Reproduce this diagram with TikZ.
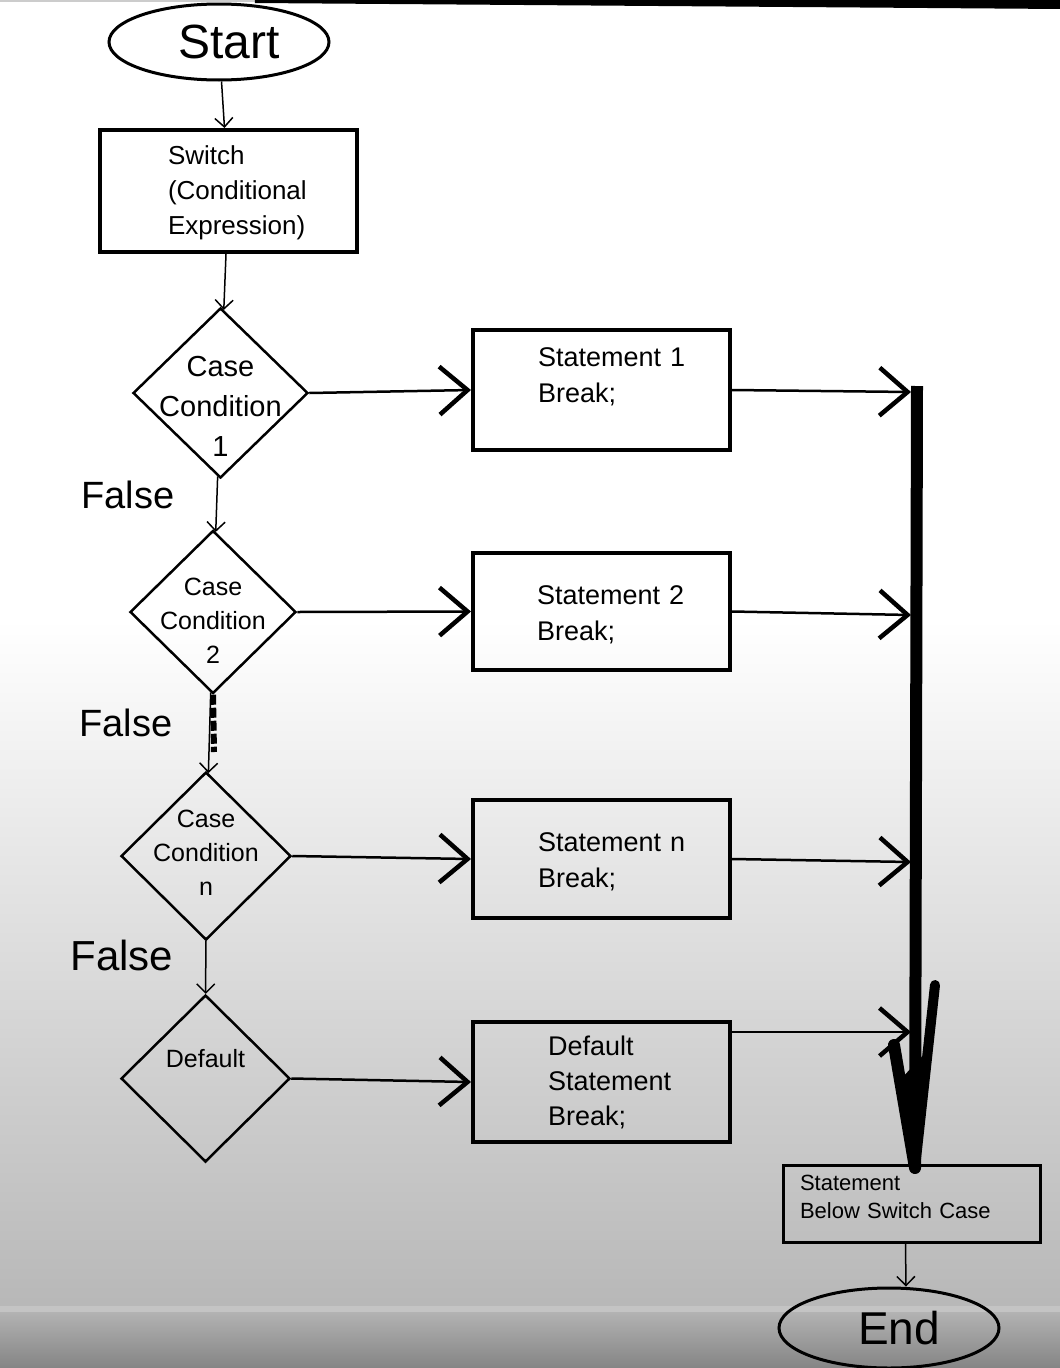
\documentclass[tikz,border=0pt]{standalone}
\usepackage{fontspec}
\setmainfont{Liberation Sans}
\usetikzlibrary{shapes.geometric,arrows.meta}
\hfuzz=100pt
\definecolor{bgmid}{gray}{0.72}
\definecolor{bgband}{gray}{0.77}
\definecolor{bglow}{gray}{0.70}
\definecolor{bgbot}{gray}{0.52}
\tikzset{
    box/.style={draw, line width=4pt, rectangle, inner sep=0pt, align=left,
        minimum width=257pt, font=\fontsize{27}{36}\selectfont},
    cond/.style={draw, line width=2.5pt, diamond, inner sep=-60pt, align=center,
        text width=140pt, font=\fontsize{25}{34}\selectfont},
    term/.style={draw, line width=3pt, ellipse, inner sep=0pt, minimum width=220pt, align=right},
    flow/.style={line width=1.5pt, -{Straight Barb[length=9pt,width=18pt,line width=1.5pt]}},
    jump/.style={line width=2.5pt, -{Straight Barb[length=28pt,width=48pt,line width=4.5pt]}},
    lbl/.style={font=\fontsize{38}{38}\selectfont}
}
\begin{document}
\begin{tikzpicture}[x=1pt,y=-1pt]
    \useasboundingbox (0,0) rectangle (1060,1368);
    \fill[white] (0,0) rectangle (1060,1368);
    \shade[top color=white, bottom color=bgmid] (0,620) rectangle (1060,1306);
    \fill[bgband] (0,1306) rectangle (1060,1312);
    \shade[top color=bglow, bottom color=bgbot] (0,1312) rectangle (1060,1368);
    \draw[gray!40, line width=3pt] (0,0) -- (255,0);
    \draw[line width=10pt] (255,-2) -- (1062,4);

    \node[term, minimum height=76pt, text width=122pt, font=\fontsize{48}{48}\selectfont] (start) at (219,42) {Start};
    \node[box, minimum height=122pt, text width=121pt, text height=34.5pt, text depth=87.5pt,
        font=\fontsize{26}{35}\selectfont] (switch) at (228.5,191) {Switch\\(Conditional\\Expression)};

    \node[cond, minimum width=175pt, minimum height=170pt, text height=68pt, text depth=102pt,
        font=\fontsize{29}{40}\selectfont] (c1) at (220.5,393) {Case\\Condition\\1};
    \node[cond, minimum width=166pt, minimum height=163pt, text height=65pt, text depth=98pt] (c2) at (213,612) {Case\\Condition\\2};
    \node[cond, minimum width=170pt, minimum height=168pt, text height=55pt, text depth=113pt] (cn) at (206,856) {Case\\Condition\\n};
    \node[cond, minimum width=169pt, minimum height=167pt, text height=72pt, text depth=95pt] (cd) at (205.5,1078.5) {Default};

    \node[lbl] (f1) at (128,495) {False};
    \node[lbl] (f2) at (126,723) {False};
    \node[lbl, font=\fontsize{42}{42}\selectfont] (f3) at (122,955) {False};

    \node[box, minimum height=120pt, text width=127pt, text height=36pt, text depth=84pt] (s1) at (601.5,390) {Statement~1\\Break;};
    \node[box, minimum height=117pt, text width=129pt, text height=51pt, text depth=66pt] (s2) at (601.5,611.5) {Statement~2\\Break;};
    \node[box, minimum height=118pt, text width=127pt, text height=51pt, text depth=67pt] (sn) at (601.5,859) {Statement~n\\Break;};
    \node[box, minimum height=120pt, text width=107pt, text height=33pt, text depth=87pt,
        font=\fontsize{27}{35}\selectfont] (sd) at (601.5,1082) {Default\\Statement\\Break;};

    \node[box, line width=3pt, minimum height=77pt, text width=223pt, text height=25pt, text depth=52pt,
        font=\fontsize{22}{28}\selectfont] (below) at (911.5,1203.5) {Statement\\Below~Switch~Case};
    \node[term, minimum height=80pt, text width=102pt, font=\fontsize{46}{46}\selectfont] (end) at (889,1328) {End};

    \coordinate (bartop) at (917,386);
    \coordinate (barbot) at (915,1168);
    \coordinate (j1) at (911,392);
    \coordinate (j2) at (911,615);
    \coordinate (j3) at (911,862);
    \coordinate (j4) at (911,1032);
    \coordinate (dd) at (214,752);

    \draw[flow] (start) -- (switch);
    \draw[flow] (switch) -- (c1);
    \draw[flow] (c1) -- (c2);
    \draw[flow] (c2) -- (cn);
    \draw[line width=6pt, dash pattern=on 10pt off 3pt] (c2.south) -- (dd);
    \draw[flow] (cn) -- (cd);

    \draw[jump] (c1.east) -- (s1.west);
    \draw[jump] (c2.east) -- (s2.west);
    \draw[jump] (cn.east) -- (sn.west);
    \draw[jump] (cd.east) -- (sd.west);

    \draw[jump] (s1.east) -- (j1);
    \draw[jump] (s2.east) -- (j2);
    \draw[jump] (sn.east) -- (j3);
    \draw[jump] (sd.east |- j4) -- (j4);

    \draw[line width=12pt] (bartop) -- (barbot);
    \draw[line width=10pt, line cap=round] (935,985) -- (barbot);
    \draw[line width=12pt, line cap=round] (894,1045) -- (barbot);
    \fill (900,1080) -- (928,1050) -- (barbot) -- cycle;

    \draw[flow] ([xshift=-6pt]below.south) -- ([xshift=17pt]end.north);
\end{tikzpicture}
\end{document}
